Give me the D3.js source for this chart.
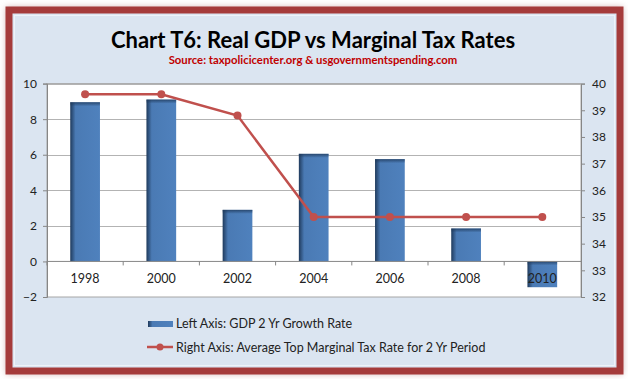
<!DOCTYPE html>
<html>
<head>
<meta charset="utf-8">
<script src="https://cdn.jsdelivr.net/npm/d3@7"></script>
<style>
  body { margin: 0; background: #fff; }
  svg { display: block; font-family: Lato, "Open Sans", sans-serif; }
</style>
</head>
<body>
<div id="chart"></div>
<script>
// data
const years = ["1998", "2000", "2002", "2004", "2006", "2008", "2010"];
const gdpGrowth = [8.95, 9.1, 2.9, 6.05, 5.75, 1.85, -1.45];
const taxRate = [39.6, 39.6, 38.8, 35, 35, 35, 35];
const leftTicks = [-2, 0, 2, 4, 6, 8, 10];
const rightTicks = [32, 33, 34, 35, 36, 37, 38, 39, 40];

const width = 628, height = 379;
const plot = { left: 47, right: 581, top: 83.6, bottom: 297 };

const svg = d3.select("#chart").append("svg")
    .attr("width", width)
    .attr("height", height);

const defs = svg.append("defs");
const blur = defs.append("filter").attr("id", "glow")
    .attr("x", "-5%").attr("y", "-5%").attr("width", "110%").attr("height", "110%");
blur.append("feGaussianBlur").attr("stdDeviation", 3);

const barGrad = defs.append("linearGradient").attr("id", "barGrad");
barGrad.append("stop").attr("offset", "0%").attr("stop-color", "#1f3a5c");
barGrad.append("stop").attr("offset", "18%").attr("stop-color", "#4a7ab4");
barGrad.append("stop").attr("offset", "100%").attr("stop-color", "#4f81bd");

const topGrad = defs.append("linearGradient").attr("id", "topGrad")
    .attr("x1", 0).attr("y1", 0).attr("x2", 0).attr("y2", 1);
topGrad.append("stop").attr("offset", "0%").attr("stop-color", "#1f3a5c").attr("stop-opacity", 0.8);
topGrad.append("stop").attr("offset", "100%").attr("stop-color", "#1f3a5c").attr("stop-opacity", 0);

// frame
svg.append("rect")
    .attr("x", 6).attr("y", 7).attr("width", 617).attr("height", 367)
    .attr("fill", "#b58080").attr("opacity", 0.6)
    .attr("filter", "url(#glow)");
svg.append("rect")
    .attr("x", 9).attr("y", 10).attr("width", 611).attr("height", 361)
    .attr("fill", "#dbe5f1")
    .attr("stroke", "#a53b3b").attr("stroke-width", 7);
svg.append("rect")
    .attr("x", 14.5).attr("y", 15.5).attr("width", 600).attr("height", 350)
    .attr("fill", "none")
    .attr("stroke", "#eef3f9").attr("stroke-width", 1);

// titles
svg.append("text")
    .attr("x", 313).attr("y", 48)
    .attr("text-anchor", "middle")
    .attr("font-size", 22).attr("font-weight", "bold")
    .attr("fill", "#000")
    .text("Chart T6: Real GDP vs Marginal Tax Rates");
svg.append("text")
    .attr("x", 313).attr("y", 64)
    .attr("text-anchor", "middle")
    .attr("font-size", 11.3).attr("font-weight", "bold")
    .attr("fill", "#c00000")
    .text("Source: taxpolicicenter.org & usgovernmentspending.com");

// scales
const x = d3.scaleBand()
    .domain(years)
    .range([plot.left, plot.left + 76.2 * years.length])
    .paddingInner(0.61)
    .paddingOuter(0.305);
const xCenter = d => x(d) + x.bandwidth() / 2;
const yL = d3.scaleLinear().domain([-2, 10]).range([plot.bottom, plot.top]);
const yR = d3.scaleLinear().domain([32, 40]).range([plot.bottom, plot.top]);

// plot area
svg.append("rect")
    .attr("x", plot.left).attr("y", plot.top)
    .attr("width", plot.right - plot.left).attr("height", plot.bottom - plot.top)
    .attr("fill", "#fff").attr("stroke", "#a6a6a6");

// gridlines
svg.append("g").selectAll("line")
    .data(leftTicks.filter(d => d > 0))
    .join("line")
    .attr("x1", plot.left).attr("x2", plot.right)
    .attr("y1", d => Math.round(yL(d)) + 0.5).attr("y2", d => Math.round(yL(d)) + 0.5)
    .attr("stroke", "#b3b3b3");

// left axis
const leftAxis = svg.append("g")
    .attr("transform", `translate(${plot.left},0)`)
    .call(d3.axisLeft(yL).tickValues(leftTicks).tickSize(4).tickPadding(6));
leftAxis.select(".domain").attr("stroke", "#868686");
leftAxis.selectAll(".tick line").attr("stroke", "#868686");
leftAxis.selectAll("text").attr("font-size", 12).attr("fill", "#222")
    .attr("font-family", "Lato, sans-serif");

// right axis
const rightAxis = svg.append("g")
    .attr("transform", `translate(${plot.right},0)`)
    .call(d3.axisRight(yR).tickValues(rightTicks).tickSize(4).tickPadding(7));
rightAxis.select(".domain").attr("stroke", "#868686");
rightAxis.selectAll(".tick line").attr("stroke", "#868686");
rightAxis.selectAll("text").attr("font-size", 12).attr("fill", "#222")
    .attr("font-family", "Lato, sans-serif");

// bars
const bars = svg.append("g");
bars.selectAll("rect.bar")
    .data(years.map((y, i) => ({ year: y, v: gdpGrowth[i] })))
    .join("rect")
    .attr("class", "bar")
    .attr("x", d => x(d.year))
    .attr("y", d => yL(Math.max(0, d.v)))
    .attr("width", x.bandwidth())
    .attr("height", d => Math.abs(yL(d.v) - yL(0)))
    .attr("fill", "url(#barGrad)");
bars.selectAll("rect.top")
    .data(years.map((y, i) => ({ year: y, v: gdpGrowth[i] })))
    .join("rect")
    .attr("class", "top")
    .attr("x", d => x(d.year))
    .attr("y", d => yL(Math.max(0, d.v)))
    .attr("width", x.bandwidth())
    .attr("height", 4)
    .attr("fill", "url(#topGrad)");

// x axis along zero
const xAxisY = yL(0);
svg.append("line")
    .attr("x1", plot.left).attr("x2", plot.right)
    .attr("y1", xAxisY).attr("y2", xAxisY)
    .attr("stroke", "#868686");
svg.append("g").selectAll("line")
    .data(d3.range(years.length))
    .join("line")
    .attr("x1", i => x(years[i]) - x.step() * x.paddingInner() / 2)
    .attr("x2", i => x(years[i]) - x.step() * x.paddingInner() / 2)
    .attr("y1", xAxisY).attr("y2", xAxisY + 4)
    .attr("stroke", "#868686");
svg.append("g").selectAll("text")
    .data(years)
    .join("text")
    .attr("x", d => xCenter(d))
    .attr("y", xAxisY + 22)
    .attr("text-anchor", "middle")
    .attr("font-size", 12.5).attr("fill", "#222")
    .text(d => d);

// tax line
const line = d3.line()
    .x((d, i) => xCenter(years[i]))
    .y(d => yR(d));
svg.append("path")
    .datum(taxRate)
    .attr("d", line)
    .attr("fill", "none")
    .attr("stroke", "#c0504d")
    .attr("stroke-width", 2.5);
svg.append("g").selectAll("circle")
    .data(taxRate)
    .join("circle")
    .attr("cx", (d, i) => xCenter(years[i]))
    .attr("cy", d => yR(d))
    .attr("r", 4)
    .attr("fill", "#c0504d");

// legend
const legend = svg.append("g");
legend.append("rect")
    .attr("x", 148).attr("y", 321).attr("width", 25).attr("height", 6)
    .attr("fill", "url(#barGrad)");
legend.append("text")
    .attr("x", 176).attr("y", 328)
    .attr("font-size", 12.5).attr("fill", "#222")
    .text("Left Axis: GDP 2 Yr Growth Rate");
legend.append("line")
    .attr("x1", 147).attr("x2", 173).attr("y1", 347).attr("y2", 347)
    .attr("stroke", "#c0504d").attr("stroke-width", 2.5);
legend.append("circle")
    .attr("cx", 160).attr("cy", 347).attr("r", 3.5)
    .attr("fill", "#c0504d");
legend.append("text")
    .attr("x", 176).attr("y", 352)
    .attr("font-size", 12.5).attr("fill", "#222")
    .text("Right Axis: Average Top Marginal Tax Rate for 2 Yr Period");
</script>
</body>
</html>
